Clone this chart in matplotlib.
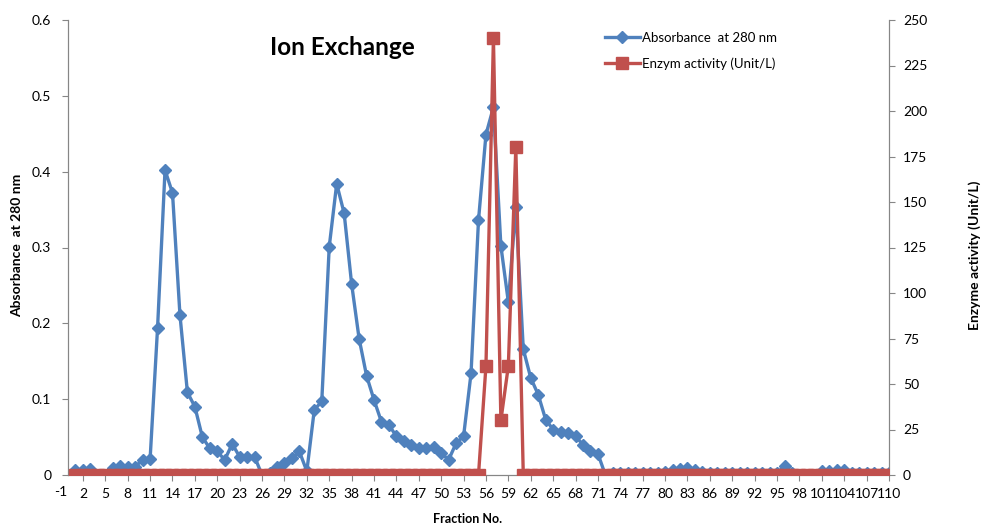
import matplotlib
matplotlib.use("Agg")
import matplotlib.pyplot as plt
import numpy as np

plt.rcParams['font.family'] = ['Lato', 'DejaVu Sans']

# fraction numbers and measured values
fractions = np.arange(1, 111)

absorbance = [
    0.007, 0.006, 0.008, 0.0, 0.0, 0.009, 0.012, 0.011, 0.011, 0.020,
    0.021, 0.194, 0.402, 0.372, 0.211, 0.109, 0.090, 0.050, 0.035, 0.031,
    0.020, 0.041, 0.024, 0.024, 0.024, 0.0, 0.003, 0.010, 0.016, 0.022,
    0.031, 0.005, 0.086, 0.097, 0.301, 0.384, 0.345, 0.252, 0.180, 0.131,
    0.099, 0.070, 0.066, 0.051, 0.045, 0.040, 0.036, 0.035, 0.037, 0.029,
    0.020, 0.042, 0.051, 0.134, 0.336, 0.449, 0.485, 0.302, 0.228, 0.354,
    0.166, 0.128, 0.106, 0.073, 0.060, 0.057, 0.055, 0.051, 0.040, 0.032,
    0.028, 0.0, 0.002, 0.002, 0.002, 0.002, 0.002, 0.002, 0.003, 0.004,
    0.007, 0.008, 0.009, 0.006, 0.004, 0.003, 0.002, 0.002, 0.002, 0.002,
    0.002, 0.002, 0.002, 0.002, 0.002, 0.012, 0.003, 0.0, 0.0, 0.0,
    0.005, 0.005, 0.006, 0.007, 0.003, 0.002, 0.002, 0.002, 0.002, 0.002,
]

activity = [0.0] * 110
activity[55] = 60    # fraction 56
activity[56] = 240   # fraction 57
activity[57] = 30    # fraction 58
activity[58] = 60    # fraction 59
activity[59] = 180   # fraction 60

tick_values = np.arange(-1, 111, 3)

blue = '#4F81BD'
red = '#C0504D'
grey = '#868686'

fig = plt.figure(figsize=(9.84, 5.26), dpi=100)
ax = fig.add_axes([68/984, 51/526, 821/984, 455/526])
ax2 = ax.twinx()

ax.plot(fractions, absorbance, '-D', color=blue, lw=2.4, ms=6.5,
        label='Absorbance  at 280 nm', zorder=3)
ax2.plot(fractions, activity, '-s', color=red, lw=2.4, ms=8.5,
         label='Enzym activity (Unit/L)', zorder=3)

ax.set_xlim(0, 110)
ax.set_ylim(0, 0.6)
ax2.set_ylim(0, 250)
ax.set_yticks(np.arange(0, 0.61, 0.1))
ax.set_yticklabels(['0', '0.1', '0.2', '0.3', '0.4', '0.5', '0.6'])
ax2.set_yticks(np.arange(0, 251, 25))

ax.set_xticks(tick_values[1:])
ax.set_xticklabels([str(v) for v in tick_values[1:]])
ax.text(-1, -0.025, '-1', transform=ax.get_xaxis_transform(),
        ha='center', va='top', fontsize=10)

for a in (ax, ax2):
    a.spines['top'].set_visible(False)
    for s in ('left', 'right', 'bottom'):
        a.spines[s].set_color(grey)
    a.tick_params(colors='black', labelsize=10, length=4, color=grey)
ax.tick_params(axis='x', pad=5)
ax.tick_params(axis='y', pad=8)
ax2.tick_params(axis='y', pad=6)

ax.text(0.334, 0.94, 'Ion Exchange', transform=ax.transAxes, ha='center',
        va='center', fontsize=17.5, fontweight='bold')

fig.text(17/984, 1 - 245/526, 'Absorbance  at 280 nm', rotation=90,
         ha='center', va='center', fontsize=10, fontweight='bold')
fig.text(975/984, 1 - 255/526, 'Enzyme activity (Unit/L)', rotation=90,
         ha='center', va='center', fontsize=10, fontweight='bold')
fig.text(468/984, 1 - 519/526, 'Fraction No.', ha='center', va='center',
         fontsize=9, fontweight='bold')

h1, l1 = ax.get_legend_handles_labels()
h2, l2 = ax2.get_legend_handles_labels()
ax2.legend(h1 + h2, l1 + l2, loc='upper left', bbox_to_anchor=(0.64, 1.0),
           frameon=False, fontsize=9.5, handlelength=2.6, handletextpad=0.2,
           labelspacing=1.0)

fig.savefig('out.png', dpi=100)
